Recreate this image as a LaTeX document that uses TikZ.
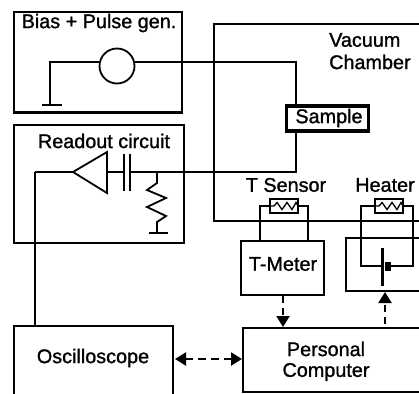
\documentclass[tikz,border=0pt]{standalone}
\usepackage{fontspec}
\setmainfont[FakeBold=1.2]{Liberation Sans}
\usetikzlibrary{arrows.meta}
\tikzset{
 box/.style={draw,line width=2.7pt,line join=miter},
 wire/.style={draw,line width=1.8pt},
 lab/.style={font=\fontsize{19.8}{22}\selectfont,inner sep=0pt,anchor=center},
 link/.style={line width=2.2pt,dash pattern=on 7pt off 5pt,-{Triangle[length=11pt,width=13pt]}},
 dlink/.style={line width=2.2pt,dash pattern=on 8pt off 5pt,{Triangle[length=11pt,width=13pt]}-{Triangle[length=11pt,width=13pt]}}
}
\begin{document}
\begin{tikzpicture}[x=1pt,y=-1pt]
\useasboundingbox (0,0) rectangle (419,393);
\clip (0,0) rectangle (419,393);
\fill[white] (0,0) rectangle (419,393);
% bias box
\node[box,minimum width=168pt,minimum height=100.5pt,inner sep=0pt] (bias) at (98,62.2) {};
\node[lab] (biast) at (99,23) {Bias + Pulse gen.};
\node[draw,circle,line width=1.8pt,minimum size=35pt,inner sep=0pt] (src) at (117,66) {};
\coordinate (gnda) at (50,105);
\coordinate (srcl) at (99.5,62);
\coordinate (srcr) at (134.5,62);
\coordinate (sl) at (296,105);
\draw[wire] (srcl) -| (gnda);
\draw[wire] (42,105) -- (62,105);
\draw[wire] (srcr) -| (sl);
% readout box
\node[box,minimum width=170pt,minimum height=118pt,inner sep=0pt] (read) at (99,184) {};
\node[lab] (readt) at (104,141) {Readout circuit};
\coordinate (tip) at (73,172);
\draw[wire,line join=miter] (tip) -- (107,152) -- (107,193) -- cycle;
\coordinate (ca) at (124,172);
\coordinate (cb) at (130,172);
\draw[wire] (107,172) -- (ca);
\draw[wire] (ca |- 0,154) -- (ca |- 0,191);
\draw[wire] (cb |- 0,154) -- (cb |- 0,191);
\draw[wire] (cb) -- (296,172) -- (sl);
\draw[wire,line join=miter] (157,172) -- (157,183) -- (147,190) -- (166,198) -- (147,207) -- (166,216) -- (157,222) -- (157,233);
\draw[wire,line width=2.4pt] (149,233) -- (168,233);
% chamber
\draw[box] (430,24) -- (214,24) -- (214,221) -- (430,221);
\node[lab,anchor=west] (vac) at (329,40) {Vacuum};
\node[lab,anchor=west] (cha) at (329,62) {Chamber};
% sample
\node[draw,line width=3.6pt,fill=white,minimum width=82pt,minimum height=25pt,inner sep=0pt] (sample) at (327.5,118.5) {};
\draw[line width=1.5pt] (285,104.5) -- (311,104.5) (342,104.5) -- (367,104.5);
\node[lab] (samplet) at (329,118) {Sample};
% T sensor
\node[lab] (tst) at (286,185) {T Sensor};
\node[lab] (htt) at (385,185) {Heater};
\node[box,line width=1.4pt,fill=white,minimum width=28pt,minimum height=14pt,inner sep=0pt] (ts) at (284,206) {};
\node[box,line width=1.4pt,fill=white,minimum width=28pt,minimum height=14pt,inner sep=0pt] (ht) at (389,206) {};
\foreach \c in {ts,ht}{
 \draw[line width=1.3pt,line join=miter] ([xshift=-14pt]\c.center) -- ++(4,0) -- ++(3,-3.5) -- ++(5,7) -- ++(5,-7) -- ++(5,7) -- ++(4,-7) -- ++(2,3.5) -- ++(0,0) -- ([xshift=14pt]\c.center);
}
\node[box,minimum width=83pt,minimum height=54pt,inner sep=0pt] (tm) at (282.5,268) {};
\node[lab] (tmt) at (283,264) {T-Meter};
\draw[wire] (ts.west) -- (260,206) -- (260,241);
\draw[wire] (ts.east) -- (308,206) -- (308,241);
% heater supply
\draw[box] (430,238) -- (346,238) -- (346,291) -- (430,291);
\coordinate (bl) at (382,266);
\coordinate (br) at (388,266);
\draw[wire] (ht.west) -- (361,206) -- (361,266) -- (bl);
\draw[wire] (ht.east) -- (413,206) -- (413,266) -- (br);
\draw[line width=3pt] (382,248) -- (382,286);
\draw[line width=5.5pt] (388,262) -- (388,271);
% bottom
\draw[box] (14,400) -- (14,326) -- (173,326) -- (173,400);
\node[lab] (osc) at (93,358) {Oscilloscope};
\draw[box] (430,392) -- (243,392) -- (243,328) -- (430,328);
\node[lab] (pc1) at (326,349) {Personal};
\node[lab] (pc2) at (326,372) {Computer};
\coordinate (oscr) at (175,359);
\coordinate (pcl) at (242,359);
\draw[wire] (35,172) -- (tip);
\draw[wire] (35,172) -- (35,325);
\draw[link] (283,296) -- (283,327);
\draw[link] (385,324) -- (385,292);
\draw[dlink] (oscr) -- (pcl);
\end{tikzpicture}
\end{document}
